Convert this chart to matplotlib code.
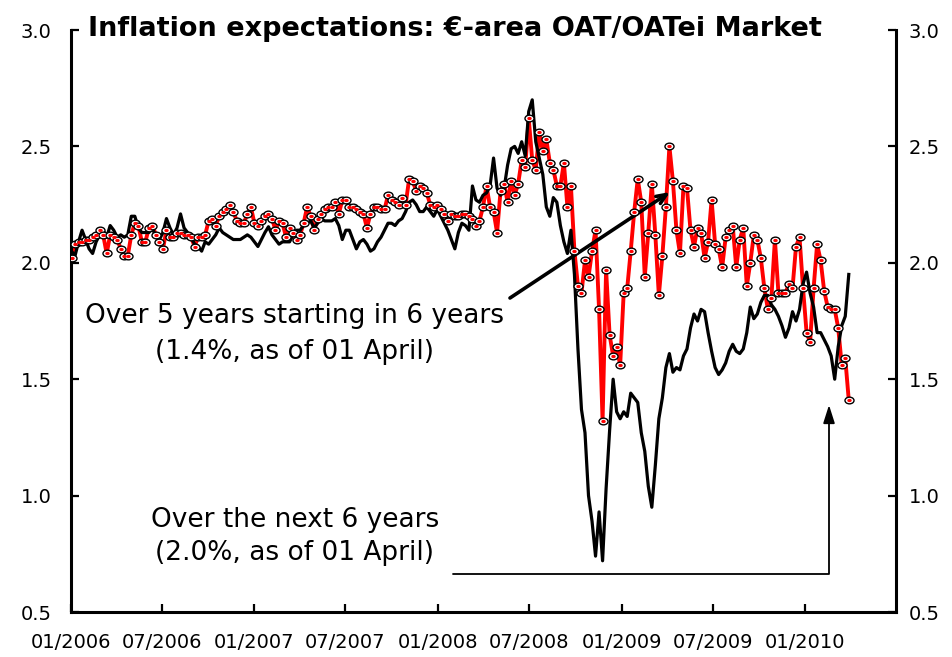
import numpy as np
import pandas as pd
import matplotlib
matplotlib.use("Agg")
import matplotlib.pyplot as plt
import matplotlib.dates as mdates
from matplotlib.path import Path

plt.rcParams["font.family"] = ["DejaVu Sans"]

# ---------------------------------------------------------------------------
# data (weekly)
# ---------------------------------------------------------------------------
START = "2006-01-02"

# over 5 years starting in 6 years (red, markers)
fwd_5y6y = [
    2.02, 2.08, 2.09, 2.09, 2.10, 2.10, 2.11, 2.12, 2.14, 2.12,
    2.04, 2.12, 2.11, 2.10, 2.06, 2.03, 2.03, 2.12, 2.17, 2.16,
    2.09, 2.09, 2.15, 2.16, 2.12, 2.09, 2.06, 2.14, 2.11, 2.11,
    2.13, 2.13, 2.12, 2.12, 2.11, 2.07, 2.11, 2.11, 2.12, 2.18,
    2.19, 2.16, 2.20, 2.22, 2.23, 2.25, 2.22, 2.18, 2.17, 2.17,
    2.21, 2.24, 2.17, 2.16, 2.18, 2.20, 2.21, 2.19, 2.14, 2.18,
    2.17, 2.11, 2.15, 2.13, 2.10, 2.12, 2.17, 2.24, 2.20, 2.14,
    2.19, 2.21, 2.23, 2.24, 2.24, 2.26, 2.21, 2.27, 2.27, 2.24,
    2.24, 2.23, 2.22, 2.21, 2.15, 2.21, 2.24, 2.24, 2.23, 2.23,
    2.29, 2.27, 2.26, 2.25, 2.28, 2.25, 2.36, 2.35, 2.31, 2.33,
    2.32, 2.30, 2.25, 2.24, 2.25, 2.23, 2.21, 2.18, 2.21, 2.20,
    2.20, 2.21, 2.21, 2.20, 2.19,
    2.16, 2.18, 2.24, 2.33, 2.24, 2.22, 2.13, 2.31, 2.34, 2.26,
    2.35, 2.29, 2.34, 2.44, 2.41, 2.62, 2.44, 2.40, 2.56, 2.48,
    2.53, 2.43, 2.40, 2.33, 2.33, 2.43, 2.24, 2.33, 2.05, 1.90,
    1.87, 2.01, 1.94, 2.05, 2.14, 1.80, 1.32, 1.97, 1.69, 1.60,
    1.64, 1.56, 1.87, 1.89, 2.05, 2.22, 2.36, 2.26, 1.94, 2.13,
    2.34, 2.12, 1.86, 2.03, 2.24, 2.50, 2.35, 2.14, 2.04, 2.33,
    2.32, 2.14, 2.07, 2.15, 2.13, 2.02, 2.09, 2.27, 2.08,
    2.06, 1.98, 2.11, 2.14, 2.16, 1.98,
    2.10, 2.15, 1.90, 2.00, 2.12, 2.10, 2.02, 1.89, 1.80, 1.85,
    2.10, 1.87, 1.87, 1.87,
    1.91, 1.89, 2.07, 2.11, 1.89, 1.70, 1.66, 1.89, 2.08, 2.01,
    1.88, 1.81, 1.80, 1.80, 1.72, 1.56, 1.59, 1.41,
]

# over the next 6 years (black)
next_6y = [
    2.05, 2.03, 2.09, 2.14, 2.10, 2.06, 2.04, 2.09, 2.12, 2.14,
    2.11, 2.16, 2.14, 2.11, 2.12, 2.11, 2.12, 2.20, 2.20, 2.15,
    2.13, 2.13, 2.13, 2.15, 2.11, 2.10, 2.13, 2.19, 2.15, 2.12,
    2.15, 2.21, 2.15, 2.13, 2.11, 2.08, 2.07, 2.05, 2.09, 2.08,
    2.10, 2.12, 2.15, 2.13, 2.12, 2.11, 2.10, 2.10, 2.10, 2.11,
    2.12, 2.11, 2.09, 2.07, 2.10, 2.13, 2.155, 2.12, 2.10, 2.08,
    2.09, 2.09, 2.09, 2.12, 2.14, 2.14, 2.16, 2.17, 2.18, 2.15,
    2.17, 2.19, 2.18, 2.18, 2.18, 2.19, 2.16, 2.10, 2.14, 2.14,
    2.10, 2.06, 2.09, 2.10, 2.08, 2.05, 2.06, 2.09, 2.11, 2.14,
    2.17, 2.17, 2.16, 2.18, 2.19, 2.22, 2.26, 2.27, 2.25, 2.22,
    2.22, 2.24, 2.22, 2.20, 2.23, 2.20, 2.17, 2.14, 2.10, 2.06,
    2.13, 2.17, 2.16, 2.14, 2.33, 2.27, 2.26, 2.29, 2.30, 2.33,
    2.45, 2.32, 2.29, 2.32, 2.42, 2.49, 2.50, 2.47, 2.52, 2.46,
    2.65, 2.70, 2.52, 2.45, 2.38, 2.24, 2.20, 2.28, 2.26, 2.16,
    2.09, 2.04, 2.14, 1.95, 1.63, 1.37, 1.27, 1.00, 0.89, 0.74,
    0.93, 0.72, 1.03, 1.28, 1.50, 1.36, 1.33, 1.36, 1.34, 1.44,
    1.42, 1.40, 1.27, 1.19, 1.04, 0.95, 1.13, 1.33, 1.42, 1.55,
    1.61, 1.53, 1.55, 1.54, 1.60, 1.63, 1.72, 1.78, 1.75, 1.80,
    1.79, 1.70, 1.62, 1.55, 1.52, 1.54, 1.57, 1.62, 1.65, 1.62,
    1.61, 1.63, 1.70, 1.81, 1.76, 1.78, 1.83, 1.86, 1.86, 1.82,
    1.80, 1.77, 1.73, 1.68, 1.72, 1.79, 1.75, 1.80, 1.91, 1.96,
    1.87, 1.81, 1.70, 1.70, 1.67, 1.64, 1.60, 1.50, 1.64, 1.73,
    1.77, 1.95,
]

tick_dates = ["2006-01-01", "2006-07-01", "2007-01-01", "2007-07-01",
              "2008-01-01", "2008-07-01", "2009-01-01", "2009-07-01",
              "2010-01-01"]
y_ticks = [0.5, 1.0, 1.5, 2.0, 2.5, 3.0]

TITLE = "Inflation expectations: \u20ac-area OAT/OATei Market"
LABEL_FWD = "Over 5 years starting in 6 years\n(1.4%, as of 01 April)"
LABEL_NEXT = "Over the next 6 years\n(2.0%, as of 01 April)"

# ---------------------------------------------------------------------------
dates_fwd = pd.date_range(START, periods=len(fwd_5y6y), freq="7D")
dates_next = pd.date_range(START, periods=len(next_6y), freq="7D")

# slightly flattened ellipse marker like the original
circ = Path.unit_circle()
oval = Path(circ.vertices * np.array([1.35, 1.0]), circ.codes)

fig = plt.figure(figsize=(9.52, 6.57), dpi=100)
ax = fig.add_axes([71 / 952, 45 / 657, 825 / 952, 582 / 657])

ax.plot(dates_fwd, fwd_5y6y, color="#ff0000", lw=2.8, zorder=2)
ax.plot(dates_next, next_6y, color="black", lw=2.3, zorder=3)
ax.plot(dates_fwd, fwd_5y6y, ls="none", marker=oval, ms=6.5,
        mfc="white", mec="black", mew=1.0, zorder=4)
ax.plot(dates_fwd, fwd_5y6y, ls="none", marker=oval, ms=3.2,
        mfc="#ff0000", mec="none", zorder=5)

ax.set_xlim(pd.Timestamp("2006-01-01"), pd.Timestamp("2010-07-01"))
ax.set_ylim(0.5, 3.0)

ax.set_xticks(pd.to_datetime(tick_dates))
ax.xaxis.set_major_formatter(mdates.DateFormatter("%m/%Y"))
ax.set_yticks(y_ticks)
ax.yaxis.set_major_formatter(plt.FormatStrFormatter("%.1f"))

ax.spines["left"].set_linewidth(2.2)
ax.spines["bottom"].set_linewidth(2.2)
ax.spines["top"].set_visible(False)
ax.spines["right"].set_visible(False)

ax.tick_params(axis="both", direction="in", length=6, width=1.6,
               labelsize=14)
ax.tick_params(axis="y", pad=14)
ax.tick_params(axis="x", pad=15)

# right-hand scale (same values), labels a bit closer to the spine
sec = ax.secondary_yaxis("right")
sec.set_yticks(y_ticks)
sec.yaxis.set_major_formatter(plt.FormatStrFormatter("%.1f"))
sec.spines["right"].set_linewidth(2.2)
sec.tick_params(direction="in", length=6, width=1.6, labelsize=14, pad=9)

fig.text(88 / 952, 1 - 36 / 657, TITLE, fontsize=19.5, fontweight="bold",
         ha="left", va="baseline")

ax.text(0.2715, 0.478, LABEL_FWD, transform=ax.transAxes, ha="center",
        va="center", fontsize=19, linespacing=1.5)
ax.text(0.2715, 0.13, LABEL_NEXT, transform=ax.transAxes, ha="center",
        va="center", fontsize=19, linespacing=1.32)

ax.annotate("", xy=(0.7261, 0.7216), xytext=(0.5321, 0.5395),
            xycoords="axes fraction", textcoords="axes fraction",
            arrowprops=dict(arrowstyle="->,head_length=0.7,head_width=0.3",
                            lw=2.6, color="black", shrinkA=0, shrinkB=0))
ax.annotate("", xy=(0.9188, 0.3557), xytext=(0.463, 0.0653),
            xycoords="axes fraction", textcoords="axes fraction",
            arrowprops=dict(arrowstyle="-|>,head_length=1.1,head_width=0.35",
                            connectionstyle="angle,angleA=0,angleB=90,rad=0",
                            lw=1.3, color="black", shrinkA=0, shrinkB=0))

fig.savefig("out.png", dpi=100)
